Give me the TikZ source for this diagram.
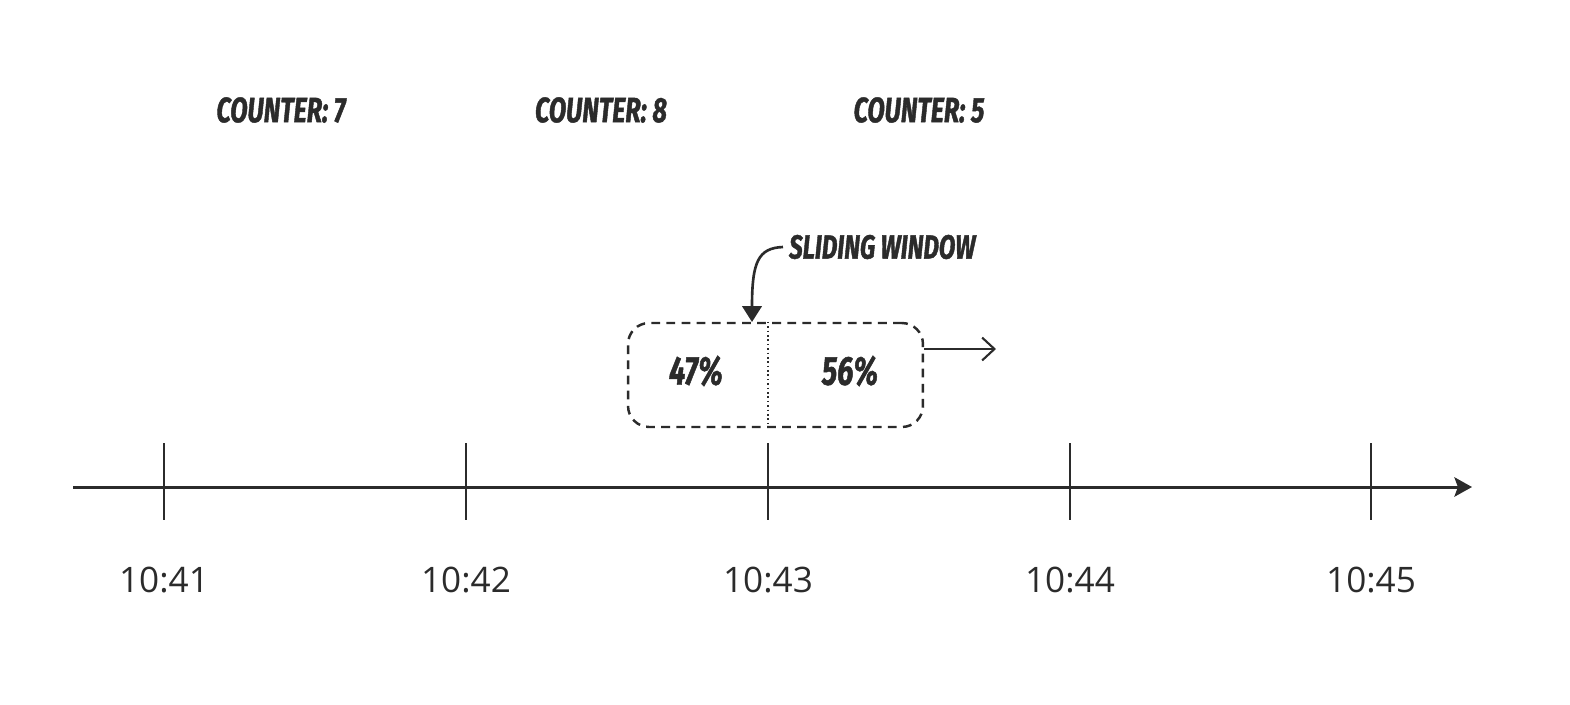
\documentclass[tikz,border=0pt]{standalone}
\usepackage{fontspec}
\setmainfont{Open Sans}
\newfontfamily\comicfont[FakeStretch=0.72, FakeBold=1.2]{Fira Sans}
\usepackage{xcolor}
\usepackage{tikz}
\usetikzlibrary{arrows.meta,positioning}
\definecolor{ink}{HTML}{2B2B2B}

\begin{document}
\begin{tikzpicture}[
  x=0.02cm, y=-0.02cm,
  axis/.style={draw=ink, line width=1.7pt, -{Stealth[length=10pt, width=11pt, inset=2pt]}},
  tick/.style={draw=ink, line width=1.4pt},
  time/.style={text=ink, font=\fontsize{20}{22}\selectfont},
  comic/.style={text=ink, font=\comicfont\bfseries\itshape\fontsize{20}{24}\selectfont},
  big/.style={comic, font=\comicfont\bfseries\itshape\fontsize{23}{26}\selectfont},
  window/.style={draw=ink, line width=1.4pt, dash pattern=on 5pt off 3.6pt, rounded corners=12pt,
    minimum width=5.9cm, minimum height=2.08cm},
  split/.style={draw=ink, line width=1.2pt, dash pattern=on 0.9pt off 1.6pt},
  move/.style={draw=ink, line width=1.2pt, -{Straight Barb[length=7pt, width=13pt]}},
  point/.style={draw=ink, line width=1.5pt, -{Triangle[length=9pt, width=11pt]}}
]
\useasboundingbox (0,0) rectangle (1570,704);

% time axis
\coordinate (ax0) at (73,487);
\coordinate (ax1) at (1472,487);
\draw[axis] (ax0) -- (ax1);
\foreach \x/\t [count=\i] in {164/41, 466/42, 768/43, 1070/44, 1371/45} {
  \coordinate (top\i) at (\x,443);
  \coordinate (bot\i) at (\x,520);
  \draw[tick] (top\i) -- (bot\i);
  \node[time] (time\i) at (\x,580) {10:\t};
}

% counters
\node[comic] (cnt1) at (281,110) {COUNTER: 7};
\node[comic] (cnt2) at (601,110) {COUNTER: 8};
\node[comic] (cnt3) at (919,110) {COUNTER: 5};

% sliding window
\node[window] (win) at (775.5,375) {};
\draw[split] (win.north -| top3) -- (win.south -| top3);
\node[big] (left) at (696,371) {47\%};
\node[big] (right) at (850,371) {56\%};
\coordinate (go) at (996,349);
\draw[move] (win.east |- go) -- (go);

\node[comic, anchor=west, font=\comicfont\bfseries\itshape\fontsize{19}{22}\selectfont] (slide) at (783,247) {SLIDING WINDOW};
\coordinate (land) at (752,322);
\draw[point] (slide.west) .. controls (758,248) and (752,262) .. (land);
\end{tikzpicture}
\end{document}
